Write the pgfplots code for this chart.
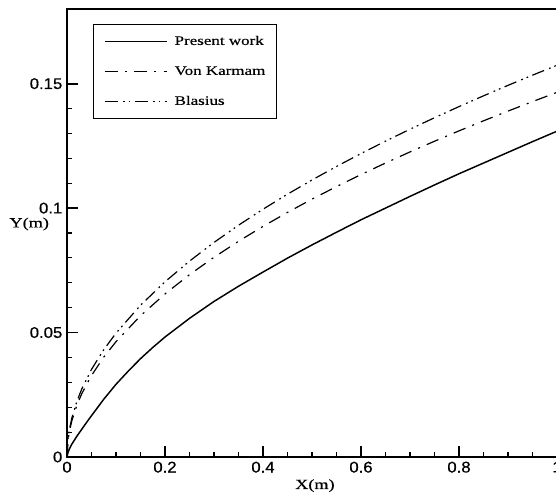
\documentclass[border=0pt]{standalone}
\usepackage{fontspec}
\setmainfont{Liberation Serif}
\newfontfamily\serifwide[FakeStretch=1.3,FakeBold=0.4]{Liberation Serif}
\newfontfamily\tickfont[FakeStretch=1.08,FakeBold=0.6]{Liberation Sans}
\usepackage{pgfplots}
\pgfplotsset{compat=1.18}
\begin{document}
\begin{tikzpicture}
\begin{axis}[
  name=ax,
  scale only axis,
  width=367.5pt, height=336pt,
  xmin=0, xmax=1, ymin=0, ymax=0.18,
  xtick={0,0.2,0.4,0.6,0.8,1},
  xticklabels={0,0.2,0.4,0.6,0.8,1},
  ytick={0,0.05,0.1,0.15},
  yticklabels={0,0.05,0.1,0.15},
  minor x tick num=3,
  minor y tick num=4,
  tick pos=left,
  tick align=inside,
  major tick length=8pt,
  minor tick length=4pt,
  every major tick/.append style={line width=1.3pt, black},
  every minor tick/.append style={line width=0.9pt, black},
  axis line style={line width=2pt},
  ticklabel style={font=\fontsize{11.6}{13}\tickfont},
  xlabel={X(m)},
  ylabel={Y(m)},
  every axis x label/.style={at={(rel axis cs:0.506,0)}, anchor=base, yshift=-24pt, font=\fontsize{10.5}{12}\serifwide},
  every axis y label/.style={at={(rel axis cs:0,0.52)}, anchor=east, xshift=-10pt, font=\fontsize{10.5}{12}\serifwide},
  legend cell align=left,
  legend style={at={(rel axis cs:0.0531,0.967)}, anchor=north west,
    draw=black, line width=0.7pt, inner xsep=8pt, inner ysep=8.5pt,
    row sep=13.5pt, column sep=5.25pt,
    nodes={inner sep=0pt, text height=7pt, text depth=2pt},
    font=\fontsize{9.8}{11}\serifwide},
  legend image code/.code={\draw[#1] (0pt,0pt) -- (46.5pt,0pt);},
]
\addplot[black, line width=1.1pt] coordinates {
(0,0) (0.002,0.0018) (0.005,0.0033) (0.01,0.0052) (0.02,0.0083) (0.03,0.0111)
(0.04,0.0139) (0.05,0.0166) (0.075,0.0232) (0.1,0.0292) (0.125,0.0345)
(0.15,0.0395) (0.175,0.0440) (0.2,0.0482) (0.25,0.0557) (0.3,0.0625)
(0.35,0.0686) (0.4,0.0743) (0.45,0.0799) (0.5,0.0852) (0.55,0.0903)
(0.6,0.0953) (0.65,0.1000) (0.7,0.1047) (0.75,0.1093) (0.8,0.1138)
(0.85,0.1181) (0.9,0.1224) (0.95,0.1267) (1.0,0.1309)
};
\addlegendentry{Present work}
\addplot[black, line width=0.9pt, dash pattern=on 9.5pt off 5.5pt on 1.5pt off 5.5pt] coordinates {
(0,0) (0.002,0.00655) (0.005,0.01036) (0.01,0.01465) (0.02,0.02072) (0.03,0.02538)
(0.05,0.03276) (0.075,0.04012) (0.1,0.04633) (0.15,0.05674) (0.2,0.06552)
(0.25,0.07325) (0.3,0.08024) (0.35,0.08667) (0.4,0.09265) (0.45,0.09828)
(0.5,0.10359) (0.55,0.10865) (0.6,0.11348) (0.65,0.11811) (0.7,0.12257)
(0.75,0.12687) (0.8,0.13103) (0.85,0.13507) (0.9,0.13898) (0.95,0.14279) (1.0,0.1465)
};
\addlegendentry{Von Karmam}
\addplot[black, line width=0.9pt, dash pattern=on 9.5pt off 4pt on 1.3pt off 3pt on 1.3pt off 3.4pt] coordinates {
(0,0) (0.002,0.00704) (0.005,0.01113) (0.01,0.01574) (0.02,0.02226) (0.03,0.02726)
(0.05,0.03520) (0.075,0.04311) (0.1,0.04977) (0.15,0.06096) (0.2,0.07039)
(0.25,0.07870) (0.3,0.08621) (0.35,0.09312) (0.4,0.09955) (0.45,0.10559)
(0.5,0.11130) (0.55,0.11673) (0.6,0.12192) (0.65,0.12690) (0.7,0.13169)
(0.75,0.13631) (0.8,0.14078) (0.85,0.14511) (0.9,0.14932) (0.95,0.15341) (1.0,0.1574)
};
\addlegendentry{Blasius}
\end{axis}
\pgfresetboundingbox
\path[use as bounding box] ([xshift=-50.25pt,yshift=-27.75pt]ax.south west) rectangle ([xshift=-0.75pt,yshift=6.75pt]ax.north east);
\end{tikzpicture}
\end{document}
